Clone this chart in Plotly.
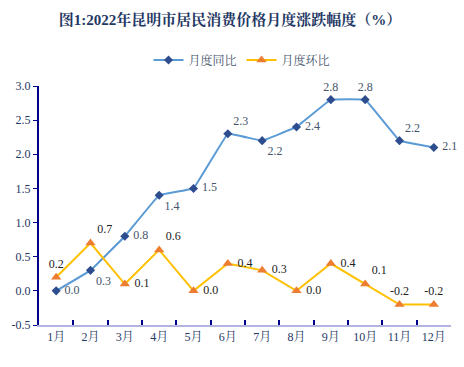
import plotly.graph_objects as go

months = ["1月", "2月", "3月", "4月", "5月", "6月", "7月", "8月", "9月", "10月", "11月", "12月"]
yoy = [0.0, 0.3, 0.8, 1.4, 1.5, 2.3, 2.2, 2.4, 2.8, 2.8, 2.2, 2.1]
mom = [0.2, 0.7, 0.1, 0.6, 0.0, 0.4, 0.3, 0.0, 0.4, 0.1, -0.2, -0.2]
yoy_pos = ["middle right", "bottom right", "middle right", "bottom right", "middle right", "top right",
           "bottom right", "middle right", "top center", "top center", "top right", "middle right"]
mom_pos = ["top center", "top right", "middle right", "top right", "middle right", "middle right",
           "middle right", "middle right", "middle right", "top right", "top center", "top center"]
yticks = [-0.5, 0.0, 0.5, 1.0, 1.5, 2.0, 2.5, 3.0]

serif = "Liberation Serif, Times New Roman, Noto Serif CJK SC, Noto Sans CJK SC"


def labels(vals, pos):
    return [(" " if p == "middle right" else "") + f"{v:.1f}" for v, p in zip(vals, pos)]


fig = go.Figure()
fig.add_trace(go.Scatter(
    x=months, y=yoy, name="月度同比", mode="lines+markers+text",
    line=dict(color="#5B9BD5", width=2, shape="spline", smoothing=0.15),
    marker=dict(symbol="diamond", size=7, color="#2E4D8F"),
    text=labels(yoy, yoy_pos), textposition=yoy_pos,
    textfont=dict(family=serif, size=12, color="#44546A"),
    cliponaxis=False,
))
fig.add_trace(go.Scatter(
    x=months, y=mom, name="月度环比", mode="lines+markers+text",
    line=dict(color="#FFC000", width=2),
    marker=dict(symbol="triangle-up", size=9, color="#ED7D31"),
    text=labels(mom, mom_pos), textposition=mom_pos,
    textfont=dict(family=serif, size=12, color="#222222"),
    cliponaxis=False,
))

fig.update_layout(
    width=464, height=367,
    margin=dict(l=39, r=13, t=86, b=42, autoexpand=False),
    paper_bgcolor="white", plot_bgcolor="white",
    title=dict(text="<b>图1:2022年昆明市居民消费价格月度涨跌幅度（%）</b>",
               x=230 / 464, xanchor="center", xref="container",
               y=1 - 20 / 367, yanchor="middle", yref="container",
               font=dict(family=serif, size=15, color="#1F3864")),
    legend=dict(orientation="h", x=242 / 464, xanchor="center", xref="container",
                y=1 - 60 / 367, yanchor="middle", yref="container",
                font=dict(family=serif, size=12, color="#44546A"),
                itemwidth=30, tracegroupgap=0),
    showlegend=True,
    font=dict(family=serif),
)
fig.update_xaxes(
    type="category", showgrid=False, showline=True, linecolor="#B4B4E0", linewidth=2,
    ticks="inside", tickson="boundaries", ticklen=5, tickcolor="#00008B", tickwidth=2,
    tickfont=dict(family=serif, size=12, color="#1F3864"),
    range=[-0.5, 11.5], automargin=False,
)
fig.update_yaxes(
    range=[-0.5, 3.0], tickvals=yticks, ticktext=[f"{v:.1f}" for v in yticks],
    showgrid=False, zeroline=False, showline=True, linecolor="#00008B", linewidth=2,
    ticks="outside", ticklen=4, tickcolor="#00008B", automargin=False,
    tickfont=dict(family=serif, size=12, color="#1F3864"),
)
fig.write_html("out.html", config={"displayModeBar": False},
               post_script="document.body.style.margin='0';document.body.style.overflow='hidden';")
